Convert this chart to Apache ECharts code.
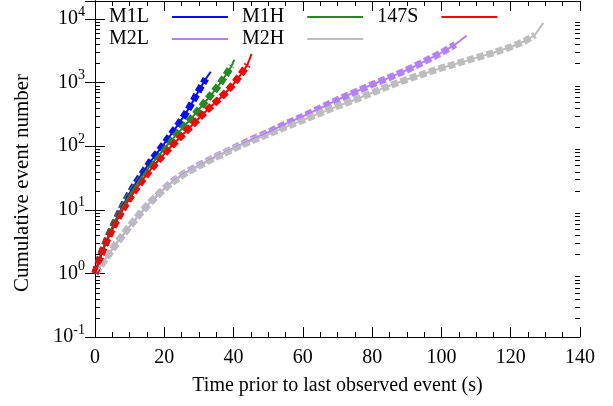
<!DOCTYPE html>
<html><head><meta charset="utf-8">
<script src="https://cdn.jsdelivr.net/npm/echarts@6/dist/echarts.min.js"></script>
<style>html,body{margin:0;padding:0;background:#fff}#c{width:613px;height:406px}</style>
</head><body><div id="c"></div>
<script>
// ---- data ----
const legendRow1 = ['M1L', 'M1H', '147S'];
const legendRow2 = ['M2L', 'M2H'];
const m1lTime  = [0, 2, 4, 6, 8, 10, 12, 14, 16, 18, 20, 22, 24, 26, 28, 30, 32, 33.4];
const m1lCount = [1, 2.2, 4.0, 6.9, 11.5, 18.2, 27.5, 39.8, 57.5, 79.4, 110, 155, 219, 316, 479, 759, 1150, 1480];
const m1hTime  = [0, 2, 4, 6, 8, 10, 12, 14, 16, 18, 20, 22, 24, 26, 28, 30, 32, 34, 36, 38, 39.4, 40.2];
const m1hCount = [1, 2.2, 4.0, 6.8, 11.0, 17.0, 25.1, 35.5, 50.1, 67.6, 91.2, 123, 162, 214, 282, 380, 513, 692, 955, 1380, 1820, 2290];
const s147Time  = [0, 2, 4, 6, 8, 10, 12, 14, 16, 18, 20, 22, 24, 26, 28, 30, 32, 34, 36, 38, 40, 42, 44, 45.2];
const s147Count = [1, 2.14, 3.8, 6.3, 10.0, 15.1, 21.9, 30.9, 42.7, 57.5, 75.9, 100, 129, 166, 214, 275, 355, 447, 562, 724, 955, 1320, 1910, 2820];
const m2lTime  = [0, 2, 4, 6, 8, 10, 13, 16, 19, 22, 26, 30, 35, 40, 45, 50, 55, 60, 65, 70, 75, 80, 85, 90, 95, 100, 104, 107.3];
const m2lCount = [1, 1.41, 2.0, 2.88, 3.98, 5.5, 8.71, 13.2, 19.1, 26.9, 38.0, 50.1, 69.2, 93.3, 126, 166, 224, 295, 398, 537, 708, 933, 1200, 1580, 2140, 2950, 3980, 5500];
const m2hTime  = [0, 2, 4, 6, 8, 10, 13, 16, 19, 22, 26, 30, 35, 40, 45, 50, 55, 60, 65, 70, 75, 80, 85, 90, 95, 100, 105, 110, 115, 120, 124, 127, 129.4];
const m2hCount = [1, 1.41, 2.0, 2.88, 3.98, 5.5, 8.71, 13.2, 19.1, 26.3, 37.2, 49.0, 67.6, 91.2, 120, 155, 200, 257, 331, 427, 537, 692, 891, 1120, 1380, 1700, 2040, 2450, 2950, 3630, 4470, 5620, 8710];
const xTickValues = [0, 20, 40, 60, 80, 100, 120, 140];
const yMinorTicks = [0.2,0.3,0.4,0.5,0.6,0.7,0.8,0.9, 2,3,4,5,6,7,8,9, 20,30,40,50,60,70,80,90,
                     200,300,400,500,600,700,800,900, 2000,3000,4000,5000,6000,7000,8000,9000];

const colors = {M1L: '#0a0aff', M1H: '#238b23', '147S': '#ff0000', M2L: '#b580ff', M2H: '#bdbdbd'};
const FONT = '"Liberation Serif", "Times New Roman", serif';

function pairs(t, c) { return t.map((v, i) => [v, c[i]]); }
const dataSets = {
  M1L: pairs(m1lTime, m1lCount),
  M1H: pairs(m1hTime, m1hCount),
  '147S': pairs(s147Time, s147Count),
  M2L: pairs(m2lTime, m2lCount),
  M2H: pairs(m2hTime, m2hCount)
};
const drawOrder = ['M2L', 'M2H', 'M1L', 'M1H', '147S'];

const series = [];
drawOrder.forEach(name => {
  const d = dataSets[name];
  series.push({
    name: name + ' fit', type: 'line', data: d.slice(0, d.length - 1),
    showSymbol: false, symbol: 'none', silent: true,
    lineStyle: {color: colors[name], width: 7, type: [7, 3], cap: 'butt'},
    itemStyle: {color: colors[name]}, z: 2
  });
  series.push({
    name: name, type: 'line', data: d,
    showSymbol: false, symbol: 'none', silent: true,
    lineStyle: {color: colors[name], width: 2},
    itemStyle: {color: colors[name]}, z: 3
  });
});
// minor ticks of the log axis (both sides)
series.push({
  type: 'custom', silent: true, clip: false, z: 10,
  data: yMinorTicks.map(v => [0, v]),
  renderItem: function (params, api) {
    const v = api.value(1);
    const pL = api.coord([0, v]);
    const pR = api.coord([140, v]);
    const y = Math.round(pL[1]) + 0.5;
    return {type: 'group', children: [
      {type: 'line', shape: {x1: pL[0], y1: y, x2: pL[0] + 5, y2: y}, style: {stroke: '#000', lineWidth: 1}},
      {type: 'line', shape: {x1: pR[0] - 5, y1: y, x2: pR[0], y2: y}, style: {stroke: '#000', lineWidth: 1}}
    ]};
  }
});

function logLabel(v) {
  const l = Math.log10(v);
  const e = Math.round(l);
  if (Math.abs(l - e) > 1e-6) return '';
  return '{b|10}{s|' + e + '}';
}

const axisCommon = {
  axisLine: {show: true, lineStyle: {color: '#000', width: 1}},
  splitLine: {show: false},
};

function legendRow(names, top) {
  return {
    data: names, left: 109, top: top, padding: 0,
    orient: 'horizontal', align: 'right', icon: 'rect',
    itemWidth: 56, itemHeight: 2, itemGap: 14,
    textStyle: {fontFamily: FONT, fontSize: 20, color: '#000', padding: [0, 18, 0, 0]},
    selectedMode: false
  };
}

const option = {
  animation: false,
  backgroundColor: '#fff',
  grid: {left: 95, top: 1, width: 485, height: 336, show: false},
  legend: [legendRow(legendRow1, 7), legendRow(legendRow2, 29)],
  xAxis: [
    Object.assign({}, axisCommon, {
      type: 'value', position: 'bottom', min: 0, max: 140, interval: 20,
      axisTick: {show: true, inside: true, length: 10, lineStyle: {color: '#000'}},
      minorTick: {show: true, splitNumber: 4, length: 5, lineStyle: {color: '#000'}},
      axisLabel: {fontFamily: FONT, fontSize: 20, color: '#000', margin: 11,
        formatter: v => xTickValues.includes(v) ? String(v) : ''},
      name: 'Time prior to last observed event (s)', nameLocation: 'middle', nameGap: 39,
      nameTextStyle: {fontFamily: FONT, fontSize: 20, color: '#000'}
    }),
    Object.assign({}, axisCommon, {
      type: 'value', position: 'top', min: 0, max: 140, interval: 20,
      axisTick: {show: true, inside: true, length: 10, lineStyle: {color: '#000'}},
      minorTick: {show: true, splitNumber: 4, length: 5, lineStyle: {color: '#000'}},
      axisLabel: {show: false}
    })
  ],
  yAxis: [
    Object.assign({}, axisCommon, {
      type: 'log', logBase: 10, min: 0.1, max: 19200, position: 'left',
      axisTick: {show: true, inside: true, length: 10, lineStyle: {color: '#000'}},
      axisLabel: {fontFamily: FONT, fontSize: 20, color: '#000', margin: 10, formatter: logLabel,
        rich: {
          b: {fontFamily: FONT, fontSize: 20, color: '#000'},
          s: {fontFamily: FONT, fontSize: 14, color: '#000', padding: [0, 0, 14, 0]}
        }},
      name: 'Cumulative event number', nameLocation: 'middle', nameGap: 62,
      nameTextStyle: {fontFamily: FONT, fontSize: 21, color: '#000', padding: [0, 28, 0, 0]}
    }),
    Object.assign({}, axisCommon, {
      type: 'log', logBase: 10, min: 0.1, max: 19200, position: 'right',
      axisTick: {show: true, inside: true, length: 10, lineStyle: {color: '#000'}},
      axisLabel: {show: false}
    })
  ],
  series: series
};

const chart = echarts.init(document.getElementById('c'), null, {renderer: 'canvas'});
chart.setOption(option);
</script></body></html>
